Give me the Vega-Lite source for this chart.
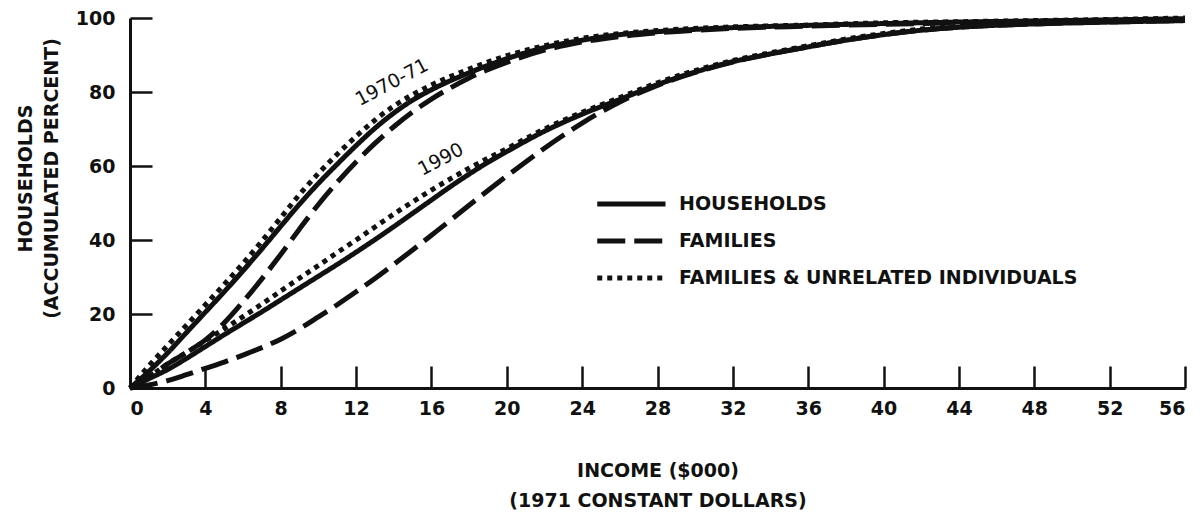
{
  "$schema": "https://vega.github.io/schema/vega-lite/v6.json",
  "width": 1055,
  "height": 370,
  "autosize": {"type": "none"},
  "padding": {"left": 130, "top": 18, "right": 18, "bottom": 126},
  "background": "white",
  "config": {
    "view": {"stroke": null},
    "font": "DejaVu Sans",
    "axis": {
      "domainColor": "#111",
      "domainWidth": 3,
      "tickColor": "#111",
      "tickWidth": 2.5,
      "tickSize": -22,
      "grid": false,
      "labelFont": "DejaVu Sans",
      "labelFontSize": 19,
      "labelFontWeight": "bold",
      "labelColor": "#111",
      "titleFont": "DejaVu Sans",
      "titleFontSize": 19,
      "titleFontWeight": "bold",
      "titleColor": "#111",
      "titleLineHeight": 28
    }
  },
  "datasets": {
    "curves": [
      {"year": "1970-71", "type": "FAMILIES & UNRELATED INDIVIDUALS", "income": 0, "percent": 0},
      {"year": "1970-71", "type": "FAMILIES & UNRELATED INDIVIDUALS", "income": 1, "percent": 6},
      {"year": "1970-71", "type": "FAMILIES & UNRELATED INDIVIDUALS", "income": 2, "percent": 11.5},
      {"year": "1970-71", "type": "FAMILIES & UNRELATED INDIVIDUALS", "income": 3, "percent": 17},
      {"year": "1970-71", "type": "FAMILIES & UNRELATED INDIVIDUALS", "income": 4, "percent": 22.5},
      {"year": "1970-71", "type": "FAMILIES & UNRELATED INDIVIDUALS", "income": 5, "percent": 28},
      {"year": "1970-71", "type": "FAMILIES & UNRELATED INDIVIDUALS", "income": 6, "percent": 33.7},
      {"year": "1970-71", "type": "FAMILIES & UNRELATED INDIVIDUALS", "income": 7, "percent": 39.7},
      {"year": "1970-71", "type": "FAMILIES & UNRELATED INDIVIDUALS", "income": 8, "percent": 46},
      {"year": "1970-71", "type": "FAMILIES & UNRELATED INDIVIDUALS", "income": 9, "percent": 52.3},
      {"year": "1970-71", "type": "FAMILIES & UNRELATED INDIVIDUALS", "income": 10, "percent": 58},
      {"year": "1970-71", "type": "FAMILIES & UNRELATED INDIVIDUALS", "income": 11, "percent": 63.2},
      {"year": "1970-71", "type": "FAMILIES & UNRELATED INDIVIDUALS", "income": 12, "percent": 68},
      {"year": "1970-71", "type": "FAMILIES & UNRELATED INDIVIDUALS", "income": 13, "percent": 72.4},
      {"year": "1970-71", "type": "FAMILIES & UNRELATED INDIVIDUALS", "income": 14, "percent": 76.2},
      {"year": "1970-71", "type": "FAMILIES & UNRELATED INDIVIDUALS", "income": 15, "percent": 79.3},
      {"year": "1970-71", "type": "FAMILIES & UNRELATED INDIVIDUALS", "income": 16, "percent": 81.9},
      {"year": "1970-71", "type": "FAMILIES & UNRELATED INDIVIDUALS", "income": 18, "percent": 86.2},
      {"year": "1970-71", "type": "FAMILIES & UNRELATED INDIVIDUALS", "income": 20, "percent": 89.8},
      {"year": "1970-71", "type": "FAMILIES & UNRELATED INDIVIDUALS", "income": 22, "percent": 92.5},
      {"year": "1970-71", "type": "FAMILIES & UNRELATED INDIVIDUALS", "income": 24, "percent": 94.5},
      {"year": "1970-71", "type": "FAMILIES & UNRELATED INDIVIDUALS", "income": 26, "percent": 95.8},
      {"year": "1970-71", "type": "FAMILIES & UNRELATED INDIVIDUALS", "income": 28, "percent": 96.6},
      {"year": "1970-71", "type": "FAMILIES & UNRELATED INDIVIDUALS", "income": 32, "percent": 97.6},
      {"year": "1970-71", "type": "FAMILIES & UNRELATED INDIVIDUALS", "income": 36, "percent": 98.1},
      {"year": "1970-71", "type": "FAMILIES & UNRELATED INDIVIDUALS", "income": 40, "percent": 98.7},
      {"year": "1970-71", "type": "FAMILIES & UNRELATED INDIVIDUALS", "income": 44, "percent": 99},
      {"year": "1970-71", "type": "FAMILIES & UNRELATED INDIVIDUALS", "income": 48, "percent": 99.3},
      {"year": "1970-71", "type": "FAMILIES & UNRELATED INDIVIDUALS", "income": 52, "percent": 99.6},
      {"year": "1970-71", "type": "FAMILIES & UNRELATED INDIVIDUALS", "income": 56, "percent": 100},

      {"year": "1970-71", "type": "HOUSEHOLDS", "income": 0, "percent": 0},
      {"year": "1970-71", "type": "HOUSEHOLDS", "income": 1, "percent": 4.5},
      {"year": "1970-71", "type": "HOUSEHOLDS", "income": 2, "percent": 9.5},
      {"year": "1970-71", "type": "HOUSEHOLDS", "income": 3, "percent": 15},
      {"year": "1970-71", "type": "HOUSEHOLDS", "income": 4, "percent": 20.5},
      {"year": "1970-71", "type": "HOUSEHOLDS", "income": 5, "percent": 26},
      {"year": "1970-71", "type": "HOUSEHOLDS", "income": 6, "percent": 31.7},
      {"year": "1970-71", "type": "HOUSEHOLDS", "income": 7, "percent": 37.6},
      {"year": "1970-71", "type": "HOUSEHOLDS", "income": 8, "percent": 43.7},
      {"year": "1970-71", "type": "HOUSEHOLDS", "income": 9, "percent": 49.7},
      {"year": "1970-71", "type": "HOUSEHOLDS", "income": 10, "percent": 55.3},
      {"year": "1970-71", "type": "HOUSEHOLDS", "income": 11, "percent": 60.5},
      {"year": "1970-71", "type": "HOUSEHOLDS", "income": 12, "percent": 65.5},
      {"year": "1970-71", "type": "HOUSEHOLDS", "income": 13, "percent": 70.2},
      {"year": "1970-71", "type": "HOUSEHOLDS", "income": 14, "percent": 74.3},
      {"year": "1970-71", "type": "HOUSEHOLDS", "income": 15, "percent": 77.8},
      {"year": "1970-71", "type": "HOUSEHOLDS", "income": 16, "percent": 80.6},
      {"year": "1970-71", "type": "HOUSEHOLDS", "income": 18, "percent": 85.2},
      {"year": "1970-71", "type": "HOUSEHOLDS", "income": 20, "percent": 89},
      {"year": "1970-71", "type": "HOUSEHOLDS", "income": 22, "percent": 92},
      {"year": "1970-71", "type": "HOUSEHOLDS", "income": 24, "percent": 94},
      {"year": "1970-71", "type": "HOUSEHOLDS", "income": 26, "percent": 95.5},
      {"year": "1970-71", "type": "HOUSEHOLDS", "income": 28, "percent": 96.3},
      {"year": "1970-71", "type": "HOUSEHOLDS", "income": 32, "percent": 97.4},
      {"year": "1970-71", "type": "HOUSEHOLDS", "income": 36, "percent": 98},
      {"year": "1970-71", "type": "HOUSEHOLDS", "income": 40, "percent": 98.5},
      {"year": "1970-71", "type": "HOUSEHOLDS", "income": 44, "percent": 98.9},
      {"year": "1970-71", "type": "HOUSEHOLDS", "income": 48, "percent": 99.2},
      {"year": "1970-71", "type": "HOUSEHOLDS", "income": 52, "percent": 99.5},
      {"year": "1970-71", "type": "HOUSEHOLDS", "income": 56, "percent": 99.8},

      {"year": "1970-71", "type": "FAMILIES", "income": 0, "percent": 0},
      {"year": "1970-71", "type": "FAMILIES", "income": 1, "percent": 3},
      {"year": "1970-71", "type": "FAMILIES", "income": 2, "percent": 6.5},
      {"year": "1970-71", "type": "FAMILIES", "income": 3, "percent": 9.6},
      {"year": "1970-71", "type": "FAMILIES", "income": 4, "percent": 13},
      {"year": "1970-71", "type": "FAMILIES", "income": 5, "percent": 17.6},
      {"year": "1970-71", "type": "FAMILIES", "income": 6, "percent": 23.3},
      {"year": "1970-71", "type": "FAMILIES", "income": 7, "percent": 29.5},
      {"year": "1970-71", "type": "FAMILIES", "income": 8, "percent": 36.1},
      {"year": "1970-71", "type": "FAMILIES", "income": 9, "percent": 43},
      {"year": "1970-71", "type": "FAMILIES", "income": 10, "percent": 49.6},
      {"year": "1970-71", "type": "FAMILIES", "income": 11, "percent": 55.6},
      {"year": "1970-71", "type": "FAMILIES", "income": 12, "percent": 61.1},
      {"year": "1970-71", "type": "FAMILIES", "income": 13, "percent": 66.1},
      {"year": "1970-71", "type": "FAMILIES", "income": 14, "percent": 70.6},
      {"year": "1970-71", "type": "FAMILIES", "income": 15, "percent": 74.6},
      {"year": "1970-71", "type": "FAMILIES", "income": 16, "percent": 78.1},
      {"year": "1970-71", "type": "FAMILIES", "income": 17, "percent": 81.1},
      {"year": "1970-71", "type": "FAMILIES", "income": 18, "percent": 83.8},
      {"year": "1970-71", "type": "FAMILIES", "income": 20, "percent": 88},
      {"year": "1970-71", "type": "FAMILIES", "income": 22, "percent": 91.3},
      {"year": "1970-71", "type": "FAMILIES", "income": 24, "percent": 93.5},
      {"year": "1970-71", "type": "FAMILIES", "income": 26, "percent": 95},
      {"year": "1970-71", "type": "FAMILIES", "income": 28, "percent": 96},
      {"year": "1970-71", "type": "FAMILIES", "income": 32, "percent": 97.2},
      {"year": "1970-71", "type": "FAMILIES", "income": 36, "percent": 97.8},
      {"year": "1970-71", "type": "FAMILIES", "income": 40, "percent": 98.3},
      {"year": "1970-71", "type": "FAMILIES", "income": 44, "percent": 98.7},
      {"year": "1970-71", "type": "FAMILIES", "income": 48, "percent": 99},
      {"year": "1970-71", "type": "FAMILIES", "income": 52, "percent": 99.3},
      {"year": "1970-71", "type": "FAMILIES", "income": 56, "percent": 99.6},

      {"year": "1990", "type": "FAMILIES & UNRELATED INDIVIDUALS", "income": 0, "percent": 0},
      {"year": "1990", "type": "FAMILIES & UNRELATED INDIVIDUALS", "income": 1, "percent": 3},
      {"year": "1990", "type": "FAMILIES & UNRELATED INDIVIDUALS", "income": 2, "percent": 6.5},
      {"year": "1990", "type": "FAMILIES & UNRELATED INDIVIDUALS", "income": 3, "percent": 9.6},
      {"year": "1990", "type": "FAMILIES & UNRELATED INDIVIDUALS", "income": 4, "percent": 12.8},
      {"year": "1990", "type": "FAMILIES & UNRELATED INDIVIDUALS", "income": 5, "percent": 16},
      {"year": "1990", "type": "FAMILIES & UNRELATED INDIVIDUALS", "income": 6, "percent": 19.3},
      {"year": "1990", "type": "FAMILIES & UNRELATED INDIVIDUALS", "income": 7, "percent": 22.7},
      {"year": "1990", "type": "FAMILIES & UNRELATED INDIVIDUALS", "income": 8, "percent": 26.2},
      {"year": "1990", "type": "FAMILIES & UNRELATED INDIVIDUALS", "income": 9, "percent": 29.7},
      {"year": "1990", "type": "FAMILIES & UNRELATED INDIVIDUALS", "income": 10, "percent": 33.1},
      {"year": "1990", "type": "FAMILIES & UNRELATED INDIVIDUALS", "income": 11, "percent": 36.6},
      {"year": "1990", "type": "FAMILIES & UNRELATED INDIVIDUALS", "income": 12, "percent": 40},
      {"year": "1990", "type": "FAMILIES & UNRELATED INDIVIDUALS", "income": 13, "percent": 43.5},
      {"year": "1990", "type": "FAMILIES & UNRELATED INDIVIDUALS", "income": 14, "percent": 47},
      {"year": "1990", "type": "FAMILIES & UNRELATED INDIVIDUALS", "income": 15, "percent": 50.3},
      {"year": "1990", "type": "FAMILIES & UNRELATED INDIVIDUALS", "income": 16, "percent": 53.5},
      {"year": "1990", "type": "FAMILIES & UNRELATED INDIVIDUALS", "income": 17, "percent": 56.5},
      {"year": "1990", "type": "FAMILIES & UNRELATED INDIVIDUALS", "income": 18, "percent": 59.4},
      {"year": "1990", "type": "FAMILIES & UNRELATED INDIVIDUALS", "income": 19, "percent": 62.1},
      {"year": "1990", "type": "FAMILIES & UNRELATED INDIVIDUALS", "income": 20, "percent": 64.7},
      {"year": "1990", "type": "FAMILIES & UNRELATED INDIVIDUALS", "income": 22, "percent": 70},
      {"year": "1990", "type": "FAMILIES & UNRELATED INDIVIDUALS", "income": 24, "percent": 74.5},
      {"year": "1990", "type": "FAMILIES & UNRELATED INDIVIDUALS", "income": 26, "percent": 78.5},
      {"year": "1990", "type": "FAMILIES & UNRELATED INDIVIDUALS", "income": 28, "percent": 82.5},
      {"year": "1990", "type": "FAMILIES & UNRELATED INDIVIDUALS", "income": 30, "percent": 85.8},
      {"year": "1990", "type": "FAMILIES & UNRELATED INDIVIDUALS", "income": 32, "percent": 88.5},
      {"year": "1990", "type": "FAMILIES & UNRELATED INDIVIDUALS", "income": 34, "percent": 90.6},
      {"year": "1990", "type": "FAMILIES & UNRELATED INDIVIDUALS", "income": 36, "percent": 92.5},
      {"year": "1990", "type": "FAMILIES & UNRELATED INDIVIDUALS", "income": 38, "percent": 94.3},
      {"year": "1990", "type": "FAMILIES & UNRELATED INDIVIDUALS", "income": 40, "percent": 95.8},
      {"year": "1990", "type": "FAMILIES & UNRELATED INDIVIDUALS", "income": 42, "percent": 97},
      {"year": "1990", "type": "FAMILIES & UNRELATED INDIVIDUALS", "income": 44, "percent": 97.8},
      {"year": "1990", "type": "FAMILIES & UNRELATED INDIVIDUALS", "income": 48, "percent": 98.6},
      {"year": "1990", "type": "FAMILIES & UNRELATED INDIVIDUALS", "income": 52, "percent": 99.1},
      {"year": "1990", "type": "FAMILIES & UNRELATED INDIVIDUALS", "income": 56, "percent": 99.5},

      {"year": "1990", "type": "HOUSEHOLDS", "income": 0, "percent": 0},
      {"year": "1990", "type": "HOUSEHOLDS", "income": 1, "percent": 2.5},
      {"year": "1990", "type": "HOUSEHOLDS", "income": 2, "percent": 5},
      {"year": "1990", "type": "HOUSEHOLDS", "income": 3, "percent": 8},
      {"year": "1990", "type": "HOUSEHOLDS", "income": 4, "percent": 11.2},
      {"year": "1990", "type": "HOUSEHOLDS", "income": 5, "percent": 14.4},
      {"year": "1990", "type": "HOUSEHOLDS", "income": 6, "percent": 17.5},
      {"year": "1990", "type": "HOUSEHOLDS", "income": 7, "percent": 20.6},
      {"year": "1990", "type": "HOUSEHOLDS", "income": 8, "percent": 23.8},
      {"year": "1990", "type": "HOUSEHOLDS", "income": 9, "percent": 27},
      {"year": "1990", "type": "HOUSEHOLDS", "income": 10, "percent": 30.2},
      {"year": "1990", "type": "HOUSEHOLDS", "income": 11, "percent": 33.4},
      {"year": "1990", "type": "HOUSEHOLDS", "income": 12, "percent": 36.7},
      {"year": "1990", "type": "HOUSEHOLDS", "income": 13, "percent": 40.1},
      {"year": "1990", "type": "HOUSEHOLDS", "income": 14, "percent": 43.6},
      {"year": "1990", "type": "HOUSEHOLDS", "income": 15, "percent": 47.2},
      {"year": "1990", "type": "HOUSEHOLDS", "income": 16, "percent": 50.8},
      {"year": "1990", "type": "HOUSEHOLDS", "income": 17, "percent": 54.4},
      {"year": "1990", "type": "HOUSEHOLDS", "income": 18, "percent": 57.8},
      {"year": "1990", "type": "HOUSEHOLDS", "income": 19, "percent": 61},
      {"year": "1990", "type": "HOUSEHOLDS", "income": 20, "percent": 63.9},
      {"year": "1990", "type": "HOUSEHOLDS", "income": 22, "percent": 69.4},
      {"year": "1990", "type": "HOUSEHOLDS", "income": 24, "percent": 74},
      {"year": "1990", "type": "HOUSEHOLDS", "income": 26, "percent": 78},
      {"year": "1990", "type": "HOUSEHOLDS", "income": 28, "percent": 82},
      {"year": "1990", "type": "HOUSEHOLDS", "income": 30, "percent": 85.4},
      {"year": "1990", "type": "HOUSEHOLDS", "income": 32, "percent": 88.2},
      {"year": "1990", "type": "HOUSEHOLDS", "income": 34, "percent": 90.3},
      {"year": "1990", "type": "HOUSEHOLDS", "income": 36, "percent": 92.2},
      {"year": "1990", "type": "HOUSEHOLDS", "income": 38, "percent": 94},
      {"year": "1990", "type": "HOUSEHOLDS", "income": 40, "percent": 95.5},
      {"year": "1990", "type": "HOUSEHOLDS", "income": 42, "percent": 96.7},
      {"year": "1990", "type": "HOUSEHOLDS", "income": 44, "percent": 97.5},
      {"year": "1990", "type": "HOUSEHOLDS", "income": 48, "percent": 98.4},
      {"year": "1990", "type": "HOUSEHOLDS", "income": 52, "percent": 98.9},
      {"year": "1990", "type": "HOUSEHOLDS", "income": 56, "percent": 99.3},

      {"year": "1990", "type": "FAMILIES", "income": 0, "percent": 0},
      {"year": "1990", "type": "FAMILIES", "income": 1, "percent": 0.8},
      {"year": "1990", "type": "FAMILIES", "income": 2, "percent": 2},
      {"year": "1990", "type": "FAMILIES", "income": 3, "percent": 3.6},
      {"year": "1990", "type": "FAMILIES", "income": 4, "percent": 5.3},
      {"year": "1990", "type": "FAMILIES", "income": 5, "percent": 7},
      {"year": "1990", "type": "FAMILIES", "income": 6, "percent": 8.9},
      {"year": "1990", "type": "FAMILIES", "income": 7, "percent": 10.9},
      {"year": "1990", "type": "FAMILIES", "income": 8, "percent": 13.2},
      {"year": "1990", "type": "FAMILIES", "income": 9, "percent": 16},
      {"year": "1990", "type": "FAMILIES", "income": 10, "percent": 19.2},
      {"year": "1990", "type": "FAMILIES", "income": 11, "percent": 22.5},
      {"year": "1990", "type": "FAMILIES", "income": 12, "percent": 26},
      {"year": "1990", "type": "FAMILIES", "income": 13, "percent": 29.6},
      {"year": "1990", "type": "FAMILIES", "income": 14, "percent": 33.4},
      {"year": "1990", "type": "FAMILIES", "income": 15, "percent": 37.3},
      {"year": "1990", "type": "FAMILIES", "income": 16, "percent": 41.3},
      {"year": "1990", "type": "FAMILIES", "income": 17, "percent": 45.3},
      {"year": "1990", "type": "FAMILIES", "income": 18, "percent": 49.4},
      {"year": "1990", "type": "FAMILIES", "income": 19, "percent": 53.4},
      {"year": "1990", "type": "FAMILIES", "income": 20, "percent": 57.3},
      {"year": "1990", "type": "FAMILIES", "income": 21, "percent": 61.1},
      {"year": "1990", "type": "FAMILIES", "income": 22, "percent": 64.8},
      {"year": "1990", "type": "FAMILIES", "income": 23, "percent": 68.3},
      {"year": "1990", "type": "FAMILIES", "income": 24, "percent": 71.6},
      {"year": "1990", "type": "FAMILIES", "income": 26, "percent": 77.3},
      {"year": "1990", "type": "FAMILIES", "income": 28, "percent": 81.8},
      {"year": "1990", "type": "FAMILIES", "income": 30, "percent": 85.3},
      {"year": "1990", "type": "FAMILIES", "income": 32, "percent": 88.1},
      {"year": "1990", "type": "FAMILIES", "income": 34, "percent": 90.3},
      {"year": "1990", "type": "FAMILIES", "income": 36, "percent": 92.2},
      {"year": "1990", "type": "FAMILIES", "income": 38, "percent": 94},
      {"year": "1990", "type": "FAMILIES", "income": 40, "percent": 95.5},
      {"year": "1990", "type": "FAMILIES", "income": 42, "percent": 96.7},
      {"year": "1990", "type": "FAMILIES", "income": 44, "percent": 97.5},
      {"year": "1990", "type": "FAMILIES", "income": 48, "percent": 98.4},
      {"year": "1990", "type": "FAMILIES", "income": 52, "percent": 98.9},
      {"year": "1990", "type": "FAMILIES", "income": 56, "percent": 99.3}
    ],
    "notes": [
      {"label": "1970-71", "income": 13.9, "percent": 82.6},
      {"label": "1990", "income": 16.5, "percent": 61.8}
    ]
  },
  "layer": [
    {
      "data": {"name": "curves"},
      "mark": {"type": "line", "color": "#111", "strokeWidth": 5, "strokeCap": "butt", "interpolate": "monotone"},
      "encoding": {
        "x": {
          "field": "income",
          "type": "quantitative",
          "scale": {"domain": [0, 56], "nice": false},
          "axis": {
            "values": [0, 2, 4, 6, 8, 10, 12, 14, 16, 18, 20, 22, 24, 26, 28, 30, 32, 34, 36, 38, 40, 42, 44, 46, 48, 50, 52, 54, 56],
            "labelExpr": "datum.value % 4 === 0 ? datum.label : ''",
            "labelPadding": 33,
            "title": ["INCOME ($000)", "(1971 CONSTANT DOLLARS)"],
            "titleLineHeight": 30,
            "titlePadding": 43
          }
        },
        "y": {
          "field": "percent",
          "type": "quantitative",
          "scale": {"domain": [0, 100], "nice": false},
          "axis": {
            "values": [0, 10, 20, 30, 40, 50, 60, 70, 80, 90, 100],
            "labelExpr": "datum.value % 20 === 0 ? datum.label : ''",
            "labelPadding": 37,
            "title": ["HOUSEHOLDS", "(ACCUMULATED PERCENT)"],
            "titleLineHeight": 26,
            "titlePadding": 14,
            "titleY": 160
          }
        },
        "strokeDash": {
          "field": "type",
          "type": "nominal",
          "scale": {
            "domain": ["HOUSEHOLDS", "FAMILIES", "FAMILIES & UNRELATED INDIVIDUALS"],
            "range": [[1, 0], [28, 9], [5, 5]]
          },
          "legend": {
            "title": null,
            "orient": "none",
            "legendX": 498,
            "legendY": 166,
            "padding": 0,
            "symbolType": "M-2.9,0H1",
            "symbolSize": 1225,
            "symbolStrokeWidth": 5,
            "symbolStrokeColor": "#111",
            "symbolFillColor": "transparent",
            "labelFont": "DejaVu Sans",
            "labelFontSize": 19,
            "labelFontWeight": "bold",
            "labelColor": "#111",
            "labelOffset": 11,
            "labelLimit": 0,
            "rowPadding": 7
          }
        },
        "detail": {"field": "year", "type": "nominal"}
      }
    },
    {
      "data": {"name": "notes"},
      "mark": {"type": "text", "angle": 332, "fontSize": 19, "font": "DejaVu Sans", "color": "#111"},
      "encoding": {
        "x": {"field": "income", "type": "quantitative"},
        "y": {"field": "percent", "type": "quantitative"},
        "text": {"field": "label"}
      }
    }
  ]
}
